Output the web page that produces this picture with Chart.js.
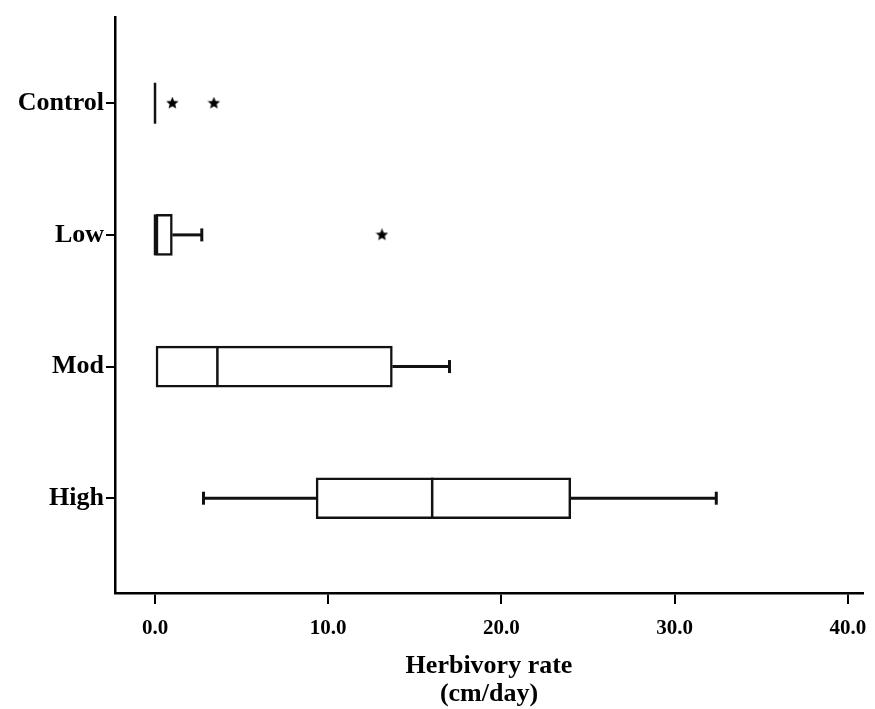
<!DOCTYPE html>
<html>
<head>
<meta charset="utf-8">
<script src="https://cdn.jsdelivr.net/npm/chart.js@4/dist/chart.umd.min.js"></script>
<style>
html,body{margin:0;padding:0;background:#fff;}
#wrap{width:875px;height:709px;}
</style>
</head>
<body>
<div id="wrap"><canvas id="c" width="875" height="709"></canvas></div>
<script>
// ---- data ----
const categories = ['Control', 'Low', 'Mod', 'High'];
const q1Values = [0, 0, 0, 9.3];
const medianValues = [0, 0, 3.6, 16.0];
const q3Values = [0, 1.0, 13.7, 24.0];
const whiskerLow = [0, 0, 0, 2.8];
const whiskerHigh = [0, 2.7, 17.0, 32.4];
const outlierCategory = ['Control', 'Control', 'Low'];
const outlierValues = [1.0, 3.4, 13.1];
const xTickValues = [0, 10, 20, 30, 40];

const X_MIN = -2.31, X_MAX = 40.87;
const Y_MIN = 0.345, Y_MAX = 4.72;

// filled star marker
function makeStar(size) {
  const cv = document.createElement('canvas');
  cv.width = size; cv.height = size;
  const g = cv.getContext('2d');
  const cx = size / 2, cy = size / 2, R = size / 2, r = R * 0.45;
  g.beginPath();
  for (let k = 0; k < 10; k++) {
    const rad = k % 2 === 0 ? R : r;
    const a = -Math.PI / 2 + k * Math.PI / 5;
    const px = cx + rad * Math.cos(a), py = cy + rad * Math.sin(a);
    if (k === 0) g.moveTo(px, py); else g.lineTo(px, py);
  }
  g.closePath();
  g.fillStyle = '#000';
  g.fill();
  return cv;
}
const star = makeStar(13);

const catIndex = c => categories.indexOf(c) + 1;
const black = '#111';
const datasets = [];

// boxes (floating bars)
datasets.push({
  type: 'bar',
  data: categories.map((c, i) => ({ x: [q1Values[i], q3Values[i]], y: i + 1 })),
  backgroundColor: '#fff',
  borderColor: black,
  borderWidth: 2.5,
  borderSkipped: false,
  barThickness: 41,
  order: 2
});

// whisker lines
categories.forEach((c, i) => {
  const y = i + 1;
  if (whiskerHigh[i] > q3Values[i]) {
    datasets.push({ type: 'scatter', showLine: true, pointRadius: 0, borderColor: black, borderWidth: 3,
      data: [{ x: q3Values[i], y }, { x: whiskerHigh[i], y }], order: 3 });
  }
  if (whiskerLow[i] < q1Values[i]) {
    datasets.push({ type: 'scatter', showLine: true, pointRadius: 0, borderColor: black, borderWidth: 3,
      data: [{ x: whiskerLow[i], y }, { x: q1Values[i], y }], order: 3 });
  }
});

// whisker caps
const caps = [];
categories.forEach((c, i) => {
  if (whiskerHigh[i] > q3Values[i]) caps.push({ x: whiskerHigh[i], y: i + 1 });
  if (whiskerLow[i] < q1Values[i]) caps.push({ x: whiskerLow[i], y: i + 1 });
});
datasets.push({ type: 'scatter', data: caps, pointStyle: 'line', rotation: 90, radius: 6.5,
  borderColor: black, borderWidth: 3, order: 1 });

// medians
datasets.push({ type: 'scatter',
  data: categories.map((c, i) => ({ x: medianValues[i], y: i + 1 })),
  pointStyle: 'line', rotation: 90, radius: 20.5, borderColor: black, borderWidth: 2.5, order: 1 });

// outliers
datasets.push({ type: 'scatter',
  data: outlierValues.map((v, k) => ({ x: v, y: catIndex(outlierCategory[k]) })),
  pointStyle: star, radius: 6.5, order: 1 });

const serif = '"Liberation Serif", "Times New Roman", serif';
const isXReal = v => xTickValues.includes(v);
const isYReal = v => Number.isInteger(v) && v >= 1 && v <= categories.length;
const clear = 'rgba(0,0,0,0)';

new Chart(document.getElementById('c'), {
  type: 'bar',
  data: { datasets },
  options: {
    indexAxis: 'y',
    responsive: false,
    animation: false,
    events: [],
    layout: { autoPadding: false, padding: { left: 0, top: 17, right: 0, bottom: 0 } },
    plugins: { legend: { display: false }, tooltip: { enabled: false } },
    scales: {
      x: {
        type: 'linear',
        position: 'bottom',
        offset: false,
        min: X_MIN,
        max: X_MAX,
        afterBuildTicks: ax => {
          ax.ticks = [X_MIN, ...xTickValues, X_MAX].map(v => ({ value: v }));
        },
        afterFit: ax => { ax.height = 116; },
        ticks: {
          autoSkip: false,
          callback: v => isXReal(v) ? Number(v).toFixed(1) : '',
          color: '#000',
          font: ctx => (ctx.tick && isXReal(ctx.tick.value))
            ? { family: serif, size: 21, weight: 'bold' }
            : { family: serif, size: 1 },
          padding: 12,
          maxRotation: 0
        },
        grid: {
          offset: false, drawOnChartArea: false, drawTicks: true, tickLength: 11, lineWidth: 2,
          color: ctx => (ctx.tick && isXReal(ctx.tick.value)) ? '#000' : clear
        },
        border: { color: '#000', width: 2.5 },
        title: {
          display: true,
          text: ['Herbivory rate', '(cm/day)'],
          color: '#000',
          font: { family: serif, size: 26, weight: 'bold', lineHeight: 1.1 },
          padding: { top: 0, bottom: 0 }
        }
      },
      y: {
        type: 'linear',
        position: 'left',
        reverse: true,
        offset: false,
        min: Y_MIN,
        max: Y_MAX,
        afterBuildTicks: ax => {
          ax.ticks = [Y_MIN, ...categories.map((c, i) => i + 1), Y_MAX].map(v => ({ value: v }));
        },
        afterFit: ax => { ax.width = 115; },
        ticks: {
          autoSkip: false,
          callback: v => isYReal(v) ? categories[v - 1] : '',
          color: '#000',
          font: ctx => (ctx.tick && isYReal(ctx.tick.value))
            ? { family: serif, size: 26, weight: 'bold' }
            : { family: serif, size: 1 },
          padding: 2
        },
        grid: {
          offset: false, drawOnChartArea: false, drawTicks: true, tickLength: 9, lineWidth: 2,
          color: ctx => (ctx.tick && isYReal(ctx.tick.value)) ? '#000' : clear
        },
        border: { color: '#000', width: 2.5 }
      }
    }
  }
});
</script>
</body>
</html>
